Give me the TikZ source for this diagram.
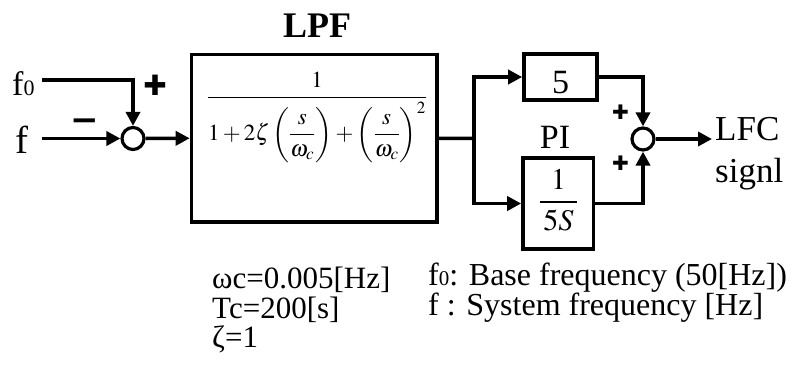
\documentclass[tikz,border=0pt]{standalone}
\usepackage{amsmath}
\usepackage{mathptmx}
\usepackage{fontspec}
\setmainfont{Liberation Serif}
\newfontfamily\signfont{DejaVu Sans}
\usetikzlibrary{arrows.meta}
\newcommand{\fsz}[1]{\fontsize{#1}{#1}\selectfont}
\begin{document}
\begin{tikzpicture}[x=1pt,y=-1pt,
  conn/.style={line width=3.5pt},
  arr/.style={-{Triangle[length=14pt,width=14pt]}},
  blk/.style={draw,line width=3.6pt,inner sep=0pt},
  sumc/.style={draw,circle,line width=3.2pt,minimum size=22pt,inner sep=0pt},
  txt/.style={inner sep=0pt},
  sgn/.style={inner sep=0pt},
]
\useasboundingbox (0,0) rectangle (798,367);
% blocks
\node[sumc] (s1) at (133,138.5) {};
\node[sumc] (s2) at (643,139) {};
\node[blk,minimum width=245.5pt,minimum height=167.5pt] (lpf) at (314.25,138.25) {};
\node[blk,minimum width=73pt,minimum height=45.5pt] (k5) at (560.5,77) {};
\node[blk,minimum width=70.5pt,minimum height=91.5pt] (pi) at (558.25,203.5) {};
% block contents
\node[txt,anchor=base,font=\fsz{36}\bfseries] (lpft) at (317,37) {LPF};
\node[txt,anchor=base,font=\fsz{23}] (lpfe) at (317,103)
  {$\displaystyle\frac{1}{\rule{0pt}{40pt}1+2\zeta\left(\dfrac{s}{\omega_c}\right)+\left(\dfrac{s}{\omega_c}\right)^{2}}$};
\node[txt,anchor=base,font=\fsz{34}] (k5t) at (560.5,93) {5};
\node[txt,anchor=base,font=\fsz{34}] (pit) at (555,148) {PI};
\node[txt,anchor=base,font=\fsz{30}] (pie) at (558.5,209.5) {$\dfrac{1}{\,5S\,}$};
% input labels
\node[txt,anchor=base west,font=\fsz{34}] (f0l) at (12,95) {f{\fsz{22}0}};
\node[txt,anchor=base west,font=\fsz{39}] (fl) at (15,153) {f};
\coordinate (f0start) at (42,80);
\coordinate (fstart) at (42,138.5);
\coordinate (br) at (474,138.5);
\coordinate (out) at (712,139);
% signs
\node[sgn,font=\signfont\fsz{28}] (p1) at (155,85) {✚};
\node[sgn,font=\signfont\bfseries\fsz{34}] (m1) at (84.5,125) {−};
\node[sgn,font=\signfont\fsz{20}] (p2) at (620.5,112.5) {✚};
\node[sgn,font=\signfont\fsz{20}] (p3) at (620.5,163.5) {✚};
% output label
\node[txt,anchor=base west,font=\fsz{35}] (lfc) at (715,140) {LFC};
\node[txt,anchor=base west,font=\fsz{35}] (sig) at (715,182) {signl};
% notes
\node[txt,anchor=base west,font=\fsz{31}] (n1) at (212,288) {ωc=0.005[Hz]};
\node[txt,anchor=base west,font=\fsz{31}] (n2) at (212,318) {Tc=200[s]};
\node[txt,anchor=base west,font=\fsz{31}] (n3) at (212,347) {ζ=1};
\node[txt,anchor=base west,font=\fsz{32}] (n4) at (428,285) {f{\fsz{21}0}: Base frequency (50[Hz])};
\node[txt,anchor=base west,font=\fsz{32}] (n5) at (428,315) {f : System frequency [Hz]};
% connectors
\draw[conn,arr] (f0start) -| (s1.north);
\draw[conn,arr] (fstart) -- (s1.west);
\draw[conn,arr] (s1.east) -- (lpf.west);
\draw[conn] (lpf.east) -- (br);
\draw[conn,arr] (br) |- (k5.west);
\draw[conn,arr] (br) |- (pi.west);
\draw[conn,arr] (k5.east) -| (s2.north);
\draw[conn,arr] (pi.east) -| (s2.south);
\draw[conn,arr] (s2.east) -- (out);
\end{tikzpicture}
\end{document}
